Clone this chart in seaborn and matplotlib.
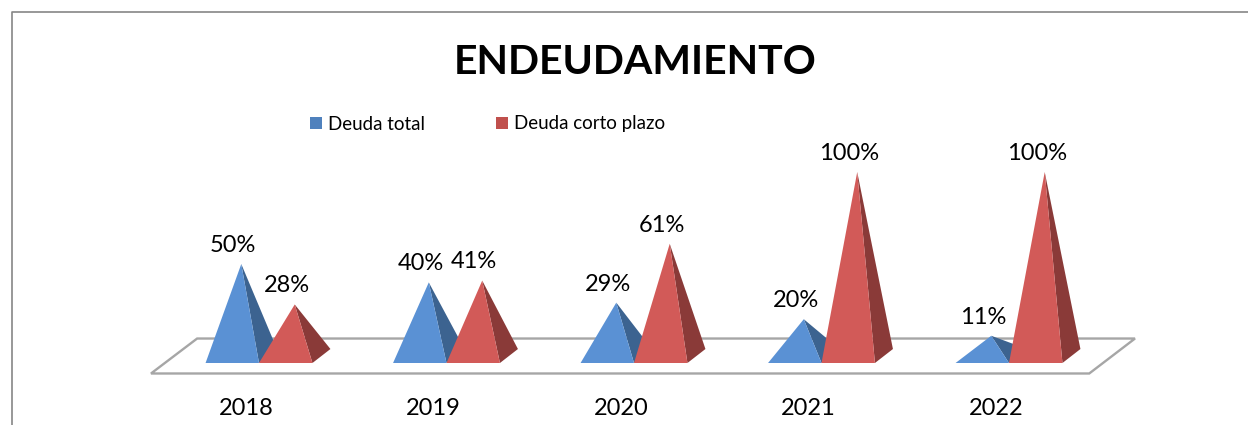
import matplotlib
matplotlib.use("Agg")
import matplotlib.pyplot as plt
import pandas as pd
import seaborn as sns
from matplotlib.lines import Line2D
from matplotlib.patches import Patch, Polygon
from matplotlib.transforms import ScaledTranslation

years = ["2018", "2019", "2020", "2021", "2022"]
deuda_total = [50, 40, 29, 20, 11]
deuda_corto = [28, 41, 61, 100, 100]
series_names = ["Deuda total", "Deuda corto plazo"]

W, H = 1248, 425
front_colors = {"Deuda total": "#5A91D4", "Deuda corto plazo": "#D25A58"}
side_colors = {"Deuda total": "#3C6390", "Deuda corto plazo": "#8A3A38"}
legend_colors = ["#4F81BD", "#C0504D"]
floor_color = "#A6A6A6"
frame_color = "#868686"

# depth of the fake 3d base, in data units
depth_x = 0.096
depth_y = 7.6

sns.set_theme(style="white")
plt.rcParams["font.family"] = ["Lato", "DejaVu Sans"]

df = pd.DataFrame({
    "year": years * 2,
    "serie": [series_names[0]] * 5 + [series_names[1]] * 5,
    "valor": deuda_total + deuda_corto,
})

fig = plt.figure(figsize=(W / 100, H / 100), dpi=100)
ax = fig.add_axes([165.25 / W, (H - 363) / H, 937.5 / W, 191 / H])

sns.barplot(data=df, x="year", y="valor", hue="serie", order=years, hue_order=series_names,
            width=0.57, gap=0, dodge=True, legend=False, ax=ax)
ax.set_xlim(-0.5, 4.5)
ax.set_ylim(0, 103.8)

# seaborn bars give the geometry, pyramids get drawn over them
bars = [b for b in ax.patches if b.get_width() > 0]

# floor plate
ax.add_patch(Polygon([(-0.576, -5.7), (4.428, -5.7), (4.672, 13.3), (-0.33, 13.3)], closed=True,
                     facecolor="white", edgecolor=floor_color, linewidth=1.7, clip_on=False, zorder=1))

for i, bar in enumerate(bars):
    name = series_names[i // 5]
    x = bar.get_x()
    w = bar.get_width()
    v = bar.get_height()
    bar.set_visible(False)
    apex = (x + w / 2 + depth_x / 2, v + depth_y / 2)
    z = 2 + i % 5 + (i // 5) * 0.5
    ax.add_patch(Polygon([(x + w, 0), (x + w + depth_x, depth_y), apex], closed=True,
                         facecolor=side_colors[name], edgecolor="none", clip_on=False, zorder=z))
    ax.add_patch(Polygon([(x, 0), (x + w, 0), apex], closed=True,
                         facecolor=front_colors[name], edgecolor="none", clip_on=False, zorder=z + 0.1))
    ax.annotate(f"{v:.0f}%", xy=apex, xytext=(-5.8, 13.4), textcoords="offset points",
                ha="center", va="center", fontsize=17, color="black", zorder=10, annotation_clip=False)

ax.set_xlabel("")
ax.set_ylabel("")
ax.set_yticks([])
ax.tick_params(axis="x", length=0, pad=25.5, labelsize=17, labelcolor="black")
# year labels sit left of the group centre in the original
for label in ax.get_xticklabels():
    label.set_transform(label.get_transform() + ScaledTranslation(-13 / 100, 0, fig.dpi_scale_trans))
sns.despine(ax=ax, left=True, bottom=True)

fig.text(635 / W, 1 - 62 / H, "ENDEUDAMIENTO", ha="center", va="center",
         fontsize=29.5, fontweight="bold", color="black")

handles = [Patch(facecolor=c, edgecolor="none") for c in legend_colors]
fig.legend(handles, series_names, loc="center left", bbox_to_anchor=(293 / W, 1 - 124 / H),
           ncols=2, frameon=False, fontsize=13.5, handlelength=0.64, handleheight=0.64,
           handletextpad=0.32, columnspacing=3.8, labelcolor="black")

# chart frame, only top and left show in the crop
fig.add_artist(Line2D([11.5 / W, 11.5 / W, 1], [0, 1 - 12 / H, 1 - 12 / H], color=frame_color, linewidth=1.2))

fig.savefig("out.png", dpi=100, facecolor="white")
